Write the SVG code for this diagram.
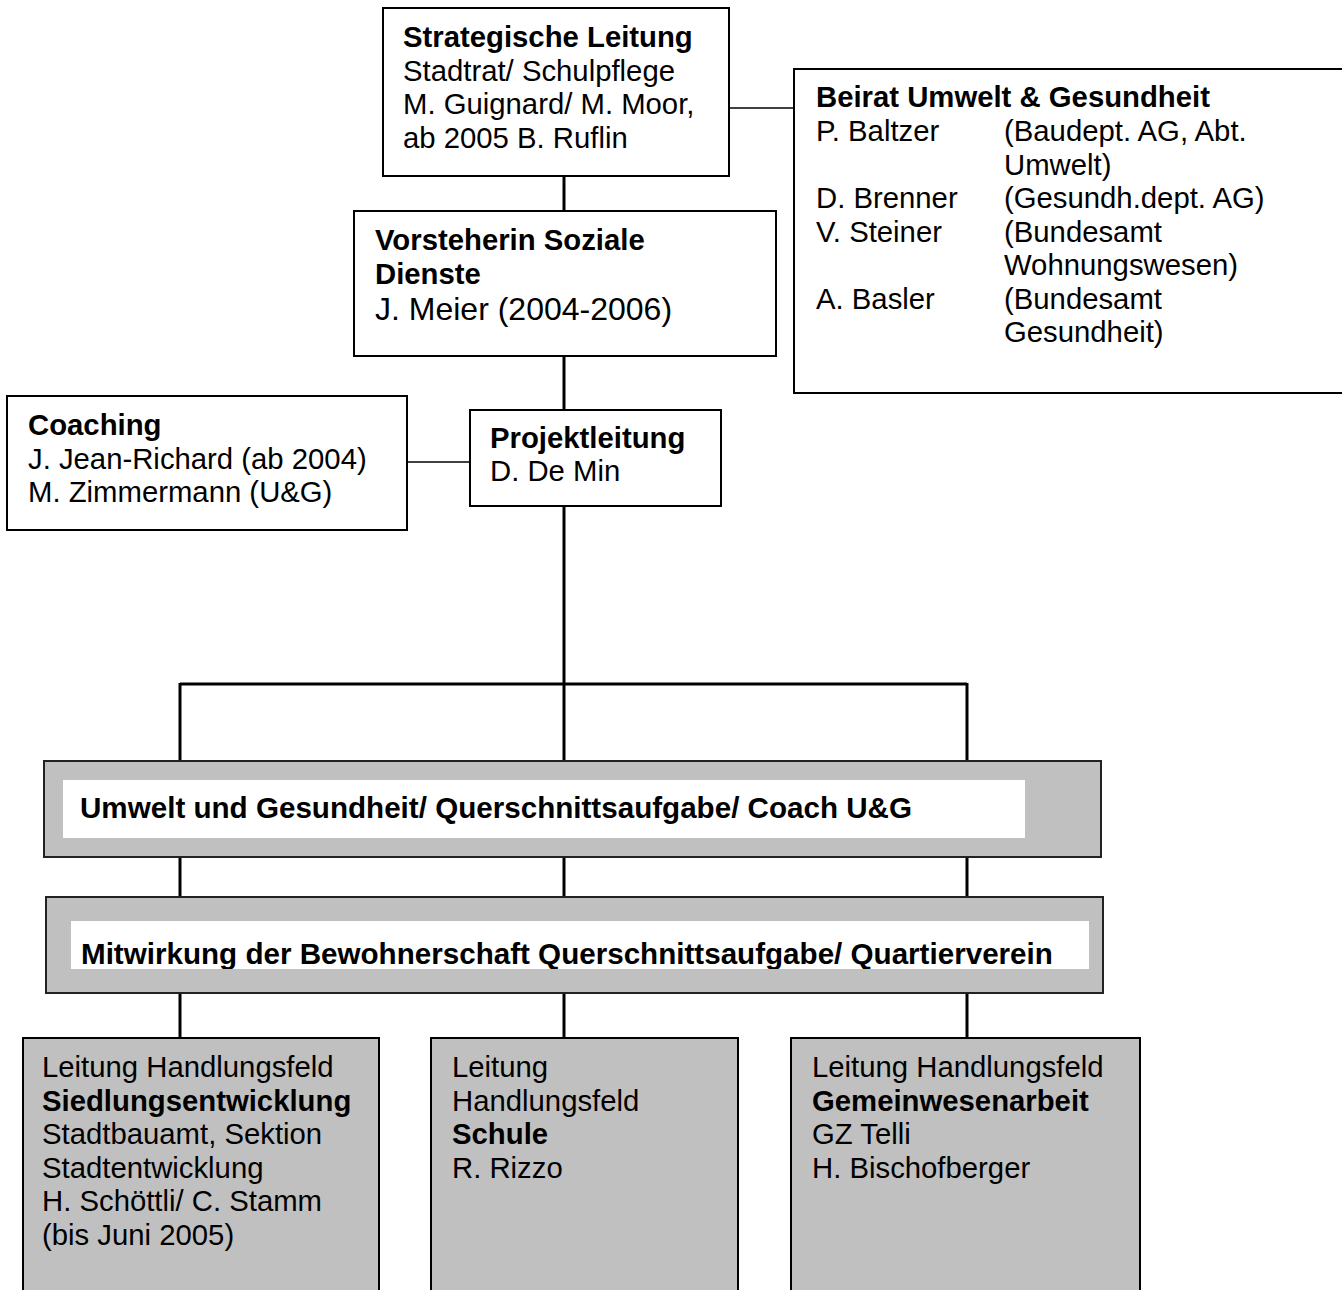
<svg xmlns="http://www.w3.org/2000/svg" width="1342" height="1290" viewBox="0 0 1342 1290">
<style>
  text { font-family: "Liberation Sans", Arial, sans-serif; font-size: 29.3px; fill: #000; }
  .b { font-weight: bold; }
  .bb { font-weight: bold; font-size: 29.6px; }
  .box { fill: #fff; stroke: #000; stroke-width: 2; }
  .gbox { fill: #c0c0c0; stroke: #000; stroke-width: 2; }
  .band { fill: #c0c0c0; stroke: #222; stroke-width: 2; }
  .inner { fill: #fff; stroke: none; }
  .thick { stroke: #000; stroke-width: 3; fill: none; }
  .thin { stroke: #000; stroke-width: 1.6; fill: none; }
</style>
<defs>
  <clipPath id="clip2"><rect x="71" y="921" width="1018" height="48"/></clipPath>
</defs>
<rect width="1342" height="1290" fill="#fff"/>

<g id="connectors">
  <line class="thick" x1="564" y1="176" x2="564" y2="211"/>
  <line class="thick" x1="564" y1="356" x2="564" y2="410"/>
  <line class="thick" x1="564" y1="506" x2="564" y2="761"/>
  <line class="thick" x1="180" y1="684" x2="967" y2="684"/>
  <line class="thick" x1="180" y1="683" x2="180" y2="761"/>
  <line class="thick" x1="967" y1="683" x2="967" y2="761"/>
  <line class="thick" x1="180" y1="857" x2="180" y2="897"/>
  <line class="thick" x1="564" y1="857" x2="564" y2="897"/>
  <line class="thick" x1="967" y1="857" x2="967" y2="897"/>
  <line class="thick" x1="180" y1="993" x2="180" y2="1038"/>
  <line class="thick" x1="564" y1="993" x2="564" y2="1038"/>
  <line class="thick" x1="967" y1="993" x2="967" y2="1038"/>
  <line class="thin" x1="729" y1="108" x2="794" y2="108"/>
  <line class="thin" x1="407" y1="462" x2="470" y2="462"/>
</g>

<g id="strategische-leitung">
  <rect class="box" x="383" y="8" width="346" height="168"/>
  <text x="403" y="47" class="b">Strategische Leitung</text>
  <text x="403" y="81">Stadtrat/ Schulpflege</text>
  <text x="403" y="114">M. Guignard/ M. Moor,</text>
  <text x="403" y="148">ab 2005 B. Ruflin</text>
</g>

<g id="beirat">
  <rect class="box" x="794" y="69" width="560" height="324"/>
  <text x="816" y="107" class="b">Beirat Umwelt &amp; Gesundheit</text>
  <text x="816" y="141">P. Baltzer</text>
  <text x="1004" y="141">(Baudept. AG, Abt.</text>
  <text x="1004" y="175">Umwelt)</text>
  <text x="816" y="208">D. Brenner</text>
  <text x="1004" y="208">(Gesundh.dept. AG)</text>
  <text x="816" y="242">V. Steiner</text>
  <text x="1004" y="242">(Bundesamt</text>
  <text x="1004" y="275">Wohnungswesen)</text>
  <text x="816" y="309">A. Basler</text>
  <text x="1004" y="309">(Bundesamt</text>
  <text x="1004" y="342">Gesundheit)</text>
</g>

<g id="vorsteherin">
  <rect class="box" x="354" y="211" width="422" height="145"/>
  <text x="375" y="250" class="b">Vorsteherin Soziale</text>
  <text x="375" y="284" class="b">Dienste</text>
  <text x="375" y="320" style="font-size:32px">J. Meier (2004-2006)</text>
</g>

<g id="coaching">
  <rect class="box" x="7" y="396" width="400" height="134"/>
  <text x="28" y="435" class="b">Coaching</text>
  <text x="28" y="469">J. Jean-Richard (ab 2004)</text>
  <text x="28" y="502">M. Zimmermann (U&amp;G)</text>
</g>

<g id="projektleitung">
  <rect class="box" x="470" y="410" width="251" height="96"/>
  <text x="490" y="448" class="b">Projektleitung</text>
  <text x="490" y="481">D. De Min</text>
</g>

<g id="umwelt-gesundheit">
  <rect class="band" x="44" y="761" width="1057" height="96"/>
  <rect class="inner" x="63" y="780" width="962" height="58"/>
  <text x="80" y="818" class="bb">Umwelt und Gesundheit/ Querschnittsaufgabe/ Coach U&amp;G</text>
</g>

<g id="mitwirkung">
  <rect class="band" x="46" y="897" width="1057" height="96"/>
  <rect class="inner" x="71" y="921" width="1018" height="48"/>
  <text x="81" y="964" class="bb" clip-path="url(#clip2)">Mitwirkung der Bewohnerschaft Querschnittsaufgabe/ Quartierverein</text>
</g>

<g id="siedlungsentwicklung">
  <rect class="gbox" x="23" y="1038" width="356" height="270"/>
  <text x="42" y="1077">Leitung Handlungsfeld</text>
  <text x="42" y="1111" class="b">Siedlungsentwicklung</text>
  <text x="42" y="1144">Stadtbauamt, Sektion</text>
  <text x="42" y="1178">Stadtentwicklung</text>
  <text x="42" y="1211">H. Schöttli/ C. Stamm</text>
  <text x="42" y="1245">(bis Juni 2005)</text>
</g>

<g id="schule">
  <rect class="gbox" x="431" y="1038" width="307" height="270"/>
  <text x="452" y="1077">Leitung</text>
  <text x="452" y="1111">Handlungsfeld</text>
  <text x="452" y="1144" class="b">Schule</text>
  <text x="452" y="1178">R. Rizzo</text>
</g>

<g id="gemeinwesenarbeit">
  <rect class="gbox" x="791" y="1038" width="349" height="270"/>
  <text x="812" y="1077">Leitung Handlungsfeld</text>
  <text x="812" y="1111" class="b">Gemeinwesenarbeit</text>
  <text x="812" y="1144">GZ Telli</text>
  <text x="812" y="1178">H. Bischofberger</text>
</g>
</svg>
